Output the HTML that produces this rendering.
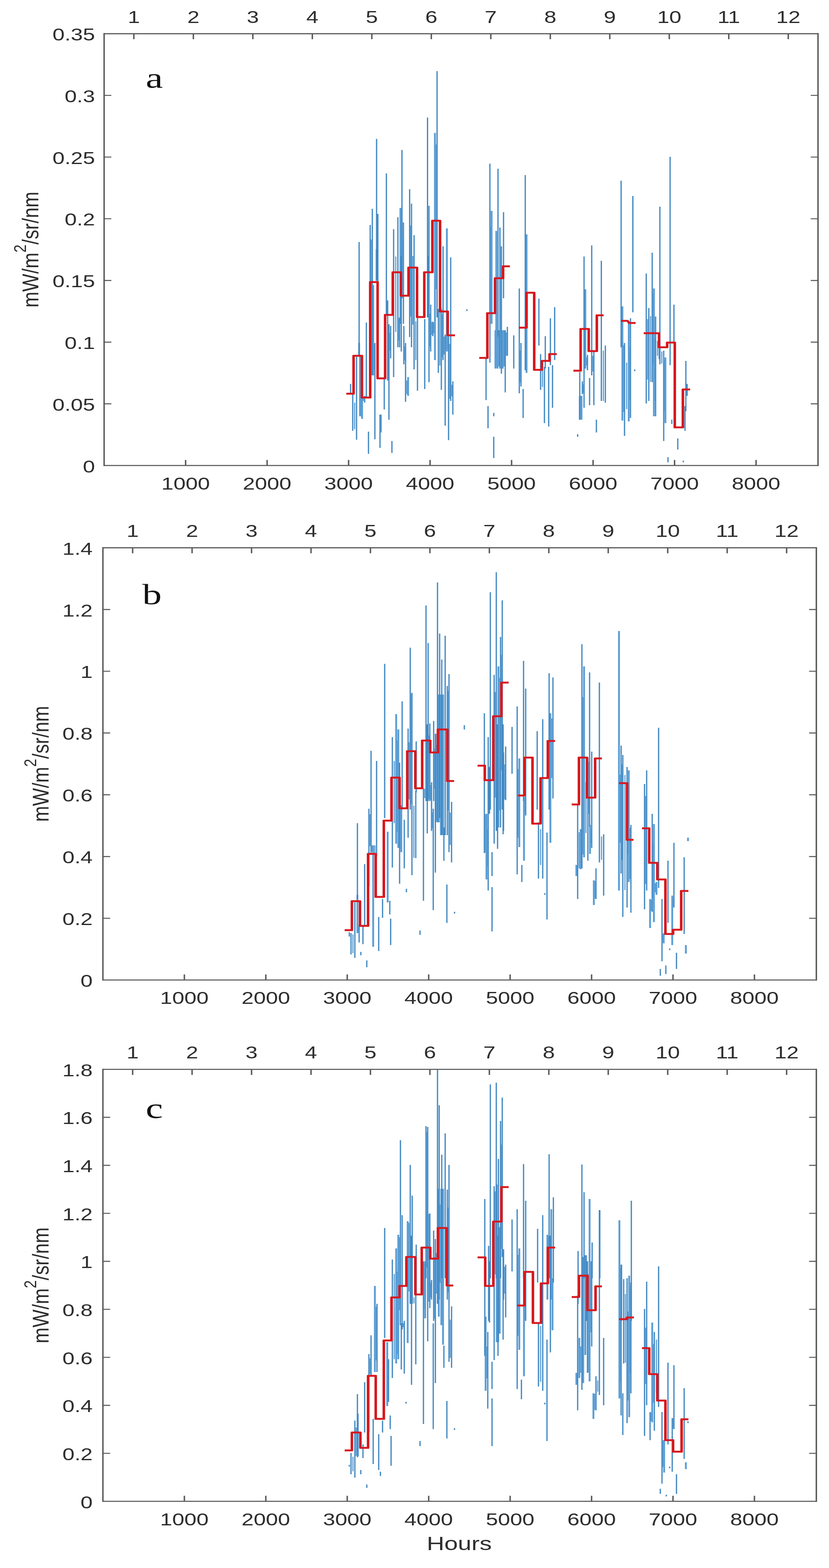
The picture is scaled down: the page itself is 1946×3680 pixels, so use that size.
<!DOCTYPE html>
<html><head><meta charset="utf-8"><title>Figure</title>
<style>html,body{margin:0;padding:0;background:#fff;}svg{display:block;}</style>
</head><body>
<svg width="1946" height="3680" viewBox="0 0 1946 3680"><path d="M843.0,805V835M845.0,835V977M850.0,905V983M876.0,669V881M884.0,585V659M894.0,973V1015M940.0,488V760M958.0,885V929M1005.0,600V745M1021.0,312V845M1049.0,536V825M1154.0,495V760M1165.0,542V863M1163.0,775V865M1168.0,775V865M1172.0,775V860M1180.0,775V865M1184.0,775V860M1236.0,550V875M1361.0,929V985M1365.0,929V985M1374.0,679V865M1461.0,719V987M1476.0,759V989M1535.0,677V977M1548.0,797V843M1562.0,839V993" stroke="#5c9fd6" stroke-width="4.4" fill="none"/>
<path d="M823.0,901V925M828.0,924V1011M837.0,835V1032M843.0,568V833M856.0,929V945M860.0,757V933M865.0,1013V1065M869.0,528V885M874.0,490V881M880.0,805V1031M884.0,326V659M887.0,502V800M892.0,973V1051M902.0,889V961M907.0,407V737M910.0,705V893M913.0,761V985M917.0,765V841M920.0,1035V1063M924.0,538V885M934.0,510V815M938.0,745V815M942.0,600V825M943.6,352V700M947.0,522V760M948.0,765V855M952.0,805V943M961.6,444V791M966.0,478V815M972.0,552V867M980.0,745V917M997.0,749V913M1003.6,276V745M1007.0,483V897M1011.0,715V825M1016.0,755V789M1026.0,167V745M1029.0,725V875M1036.0,725V915M1040.0,578V845M1045.0,785V999M1053.0,785V1033M1058.0,604V941M1063.0,895V973M1141.0,841V939M1145.6,953V1005M1150.0,384V851M1159.0,969V977M1159.0,1025V1075M1169.0,396V790M1173.6,534V865M1177.0,578V877M1182.0,498V700M1186.0,775V921M1191.0,767V835M1206.0,787V865M1219.0,677V923M1223.0,805V907M1228.0,913V981M1233.0,411V869M1265.0,701V811M1269.0,831V915M1278.0,861V993M1280.0,789V865M1288.0,861V1001M1292.0,747V857M1297.0,857V957M1302.0,721V845M1096.0,726V730M1356.0,1019V1025M1361.0,873V985M1367.0,895V925M1371.0,602V957M1379.0,833V869M1384.0,887V951M1389.0,576V881M1394.0,825V951M1400.0,985V1015M1411.6,612V941M1421.0,811V945M1458.0,424V815M1466.0,805V1023M1480.0,747V981M1485.6,460V733M1490.0,867V871M1517.0,642V947M1523.0,723V941M1531.0,593V897M1539.0,743V977M1549.0,485V855M1558.0,823V1035M1573.0,368V857M1582.0,715V805M1577.0,985V995M1591.0,1029V1055M1608.0,953V1011M1610.0,847V965M1613.0,901V929M1604.0,1081V1085M1568.0,1073V1085" stroke="#3f86c0" stroke-width="2.9" fill="none"/>
<path d="M832.5,945V1007M847.5,920V977M853.0,932V941M871.5,562V881M878.0,807V866M915.0,781V823M929.0,602V779M936.0,747V799M945.3,558V679M950.0,814V846M955.0,893V925M963.8,529V743M969.0,601V762M976.0,754V845M1009.0,736V813M1013.5,756V786M1018.5,757V782M1023.5,339V679M1032.5,732V858M1038.0,738V838M1042.5,790V832M1047.0,789V820M1051.0,793V819M1055.5,807V936M1060.5,903V930M1152.0,531V735M1175.3,609V820M1188.5,780V835M1221.0,823V898M1273.5,869V908M1363.0,937V980M1369.0,902V922M1376.5,839V858M1391.5,835V872M1416.3,823V941M1463.5,810V967M1471.0,851V960M1478.0,813V940M1520.0,749V891M1527.0,742V896M1533.0,688V855M1537.0,794V941M1543.5,800V835M1553.5,825V853M1560.0,845V965" stroke="#5a9dd4" stroke-width="2.6" fill="none"/>
<path transform="scale(1.28,1)" d="M635.16,924L648.44,924L648.44,835L663.75,835L663.75,933L678.91,933L678.91,662L692.50,662L692.50,888L706.25,888L706.25,739L720.31,739L720.31,639L735.16,639L735.16,694L749.22,694L749.22,628L764.84,628L764.84,744L778.12,744L778.12,639L792.97,639L792.97,518L807.03,518L807.03,731L821.09,731L821.09,787L834.38,787" stroke="#d7191f" stroke-width="4.7" fill="none" stroke-linejoin="round"/>
<path transform="scale(1.28,1)" d="M878.91,840L893.75,840L893.75,735L907.81,735L907.81,653L922.66,653L922.66,625L935.16,625" stroke="#d7191f" stroke-width="4.7" fill="none" stroke-linejoin="round"/>
<path transform="scale(1.28,1)" d="M951.56,769L965.62,769L965.62,687L979.69,687L979.69,868L993.75,868L993.75,847L1007.81,847L1007.81,831L1021.09,831" stroke="#d7191f" stroke-width="4.7" fill="none" stroke-linejoin="round"/>
<path transform="scale(1.28,1)" d="M1051.56,870L1064.84,870L1064.84,772L1079.69,772L1079.69,824L1094.53,824L1094.53,740L1107.03,740" stroke="#d7191f" stroke-width="4.7" fill="none" stroke-linejoin="round"/>
<path transform="scale(1.28,1)" d="M1139.06,753L1150.78,753L1153.91,758L1165.62,758" stroke="#d7191f" stroke-width="4.7" fill="none" stroke-linejoin="round"/>
<path transform="scale(1.28,1)" d="M1180.47,782L1208.59,782L1208.59,815L1223.44,815L1223.44,804L1237.50,804L1237.50,1003L1252.34,1003L1252.34,914L1265.62,914" stroke="#d7191f" stroke-width="4.7" fill="none" stroke-linejoin="round"/>
<path d="M839.0,2100V2190M876.0,1984V2222M910.0,1952V2118M930.0,1676V1980M935.0,1712V1990M942.0,1890V2000M1030.0,1630V1930M1035.0,1630V1960M1040.0,1630V1960M1142.0,1910V2064M1170.0,1564V1942M1219.0,1780V1988M1230.0,1870V2020M1292.0,1674V1978M1353.0,2030V2056M1363.0,1946V2040M1371.0,1564V2012M1385.0,1936V2004M1394.0,2066V2124M1453.0,1481V2090M1476.0,1808V2070M1526.0,2110V2178M1535.0,1934V2164M1541.0,2070V2100M1558.0,2190V2214M1578.0,2102V2218M1610.0,2218V2238M1615.0,1966V1974" stroke="#5c9fd6" stroke-width="4.4" fill="none"/>
<path d="M820.0,2188V2198M824.0,2190V2240M833.0,2118V2248M839.0,1932V2110M843.0,2170V2212M847.0,2234V2242M852.0,2174V2216M856.0,2028V2174M861.0,2254V2270M866.0,1898V2080M871.0,1762V2002M884.0,1786V2010M889.0,2152V2232M898.0,2110V2154M903.0,1558V1920M915.0,2114V2146M917.0,2156V2218M921.0,1730V2036M938.0,1790V2074M944.0,1646V1900M949.0,1924V2038M954.0,2086V2094M958.0,1710V1966M963.0,1520V1900M967.0,1626V2054M976.0,1856V2014M977.0,1740V1860M986.0,2184V2194M994.0,1850V2114M1000.0,1421V1880M1003.0,1700V1956M1005.0,1509V1880M1009.0,1698V1880M1013.0,1836V1950M1017.0,1898V2136M1018.0,1692V1880M1022.0,1722V2048M1023.0,1722V1930M1027.0,1367V1930M1032.0,1487V1920M1037.0,1548V1960M1042.0,1942V2020M1045.0,1492V1960M1049.0,2076V2166M1050.0,1610V1960M1054.0,1582V2000M1060.0,1882V2024M1067.0,2140V2144M1090.0,1702V1712M1137.0,1674V2002M1146.0,1730V2090M1149.0,1800V1910M1151.0,1390V1900M1155.0,2000V2056M1155.0,2082V2186M1160.0,1584V1980M1165.0,1343V1950M1168.0,1700V1992M1175.0,1495V1942M1179.0,1409V1900M1181.0,1700V1958M1182.0,1766V1950M1187.0,1752V1878M1202.0,1706V1816M1214.0,1658V2052M1225.0,2030V2070M1229.0,1551V1880M1234.0,1616V1914M1261.0,1716V1900M1264.0,1930V2062M1274.0,1688V2062M1279.0,2096V2100M1284.0,1954V2158M1289.0,1580V1900M1298.0,1590V1874M1356.0,1890V2110M1366.0,1512V2038M1380.0,1778V2020M1384.0,1578V1940M1389.0,1764V1990M1399.0,2038V2110M1407.0,1602V2024M1417.0,1958V2102M1458.0,1750V2050M1462.0,1772V2152M1472.0,1800V2130M1481.0,1936V2142M1513.0,1840V2134M1518.0,1808V2090M1531.0,1910V2140M1546.0,1708V2084M1554.0,2110V2256M1568.0,2020V2166M1582.0,1978V2130M1550.0,2274V2290M1563.0,2266V2286M1588.0,2236V2274M1572.0,2226V2230M1606.0,2012V2192" stroke="#3f86c0" stroke-width="2.9" fill="none"/>
<path d="M828.5,2193V2237M841.0,2175V2189M868.5,1911V1986M873.5,1984V1999M880.0,1984V2006M925.5,1786V1932M932.5,1738V1952M940.0,1902V1993M960.5,1742V1876M965.0,1628V1887M971.5,1891V2013M997.0,1851V1873M1007.0,1726V1876M1011.0,1843V1878M1015.0,1907V1944M1020.0,1757V1851M1025.0,1748V1927M1052.0,1622V1902M1057.0,1907V1983M1139.5,1911V2001M1144.0,1946V2033M1162.5,1624V1872M1172.5,1591V1902M1177.0,1537V1808M1184.5,1794V1876M1216.5,1805V1966M1232.0,1873V1909M1269.0,1946V2030M1295.0,1686V1826M1359.5,1953V2038M1368.5,1636V2005M1375.5,1836V1955M1382.0,1788V1910M1387.0,1947V1979M1396.5,2068V2109M1412.0,1963V2018M1455.5,1818V1978M1460.0,1794V2019M1467.0,1819V2089M1474.0,1843V2006M1478.5,1943V2063M1515.5,1868V2075M1528.5,2112V2138M1533.0,1980V2109M1538.0,2073V2094M1556.0,2193V2210M1580.0,2108V2127" stroke="#5a9dd4" stroke-width="2.6" fill="none"/>
<path transform="scale(1.28,1)" d="M632.03,2183L645.31,2183L645.31,2115L660.16,2115L660.16,2173L675.00,2173L675.00,2004L689.06,2004L689.06,2105L703.91,2105L703.91,1926L717.97,1926L717.97,1825L732.81,1825L732.81,1897L746.88,1897L746.88,1763L761.72,1763L761.72,1850L774.22,1850L774.22,1738L789.06,1738L789.06,1766L803.12,1766L803.12,1712L820.31,1712L820.31,1833L832.81,1833" stroke="#d7191f" stroke-width="4.7" fill="none" stroke-linejoin="round"/>
<path transform="scale(1.28,1)" d="M875.78,1797L889.06,1797L889.06,1831L904.69,1831L904.69,1681L919.53,1681L919.53,1602L932.81,1602" stroke="#d7191f" stroke-width="4.7" fill="none" stroke-linejoin="round"/>
<path transform="scale(1.28,1)" d="M950.00,1867L961.72,1867L961.72,1778L976.56,1778L976.56,1933L991.41,1933L991.41,1826L1004.69,1826L1004.69,1739L1017.97,1739" stroke="#d7191f" stroke-width="4.7" fill="none" stroke-linejoin="round"/>
<path transform="scale(1.28,1)" d="M1048.44,1888L1061.72,1888L1061.72,1778L1076.56,1778L1076.56,1872L1091.41,1872L1091.41,1780L1103.91,1780" stroke="#d7191f" stroke-width="4.7" fill="none" stroke-linejoin="round"/>
<path transform="scale(1.28,1)" d="M1135.16,1838L1150.00,1838L1150.00,1971L1161.72,1971" stroke="#d7191f" stroke-width="4.7" fill="none" stroke-linejoin="round"/>
<path transform="scale(1.28,1)" d="M1177.34,1944L1190.62,1944L1190.62,2025L1205.47,2025L1205.47,2064L1220.31,2064L1220.31,2192L1234.38,2192L1234.38,2182L1249.22,2182L1249.22,2091L1262.50,2091" stroke="#d7191f" stroke-width="4.7" fill="none" stroke-linejoin="round"/>
<path d="M840.0,3318V3418M880.0,3018V3220M909.0,3150V3300M930.0,2930V3200M935.0,2898V3190M957.0,2866V3152M998.0,2960V3094M1030.0,2790V3090M1036.0,2790V3110M1040.0,2790V3156M1140.0,3090V3264M1166.0,2780V3150M1173.0,2880V3130M1219.0,2930V3168M1230.0,3000V3230M1285.0,2898V3050M1294.0,2838V3050M1297.0,3000V3122M1353.0,3222V3250M1360.0,3140V3234M1369.0,2950V3246M1374.0,2946V3180M1384.0,2814V3242M1393.0,3270V3330M1454.0,2864V3282M1477.0,2994V3326M1531.0,3104V3338M1559.0,3380V3456M1610.0,3432V3448" stroke="#5c9fd6" stroke-width="4.4" fill="none"/>
<path d="M820.0,3438V3442M824.0,3410V3460M833.0,3334V3468M839.0,3272V3420M847.0,3450V3460M852.0,3390V3422M856.0,3244V3362M861.0,3484V3492M866.0,3178V3360M871.0,3134V3230M876.0,3330V3436M885.0,3060V3220M889.0,3366V3450M893.0,3454V3464M898.0,3334V3362M903.0,2882V3140M912.0,3190V3290M916.0,3322V3354M918.0,3370V3440M921.0,2956V3234M940.0,2676V3110M942.0,3106V3214M944.0,2852V3120M949.0,3100V3224M953.0,3290V3294M963.0,2734V3060M966.0,2900V3250M967.6,2806V3060M976.0,3040V3202M977.0,2921V3040M986.0,3382V3394M994.0,2960V3342M1000.0,2643V3000M1004.0,2645V3148M1009.0,2848V3070M1013.0,3004V3050M1017.0,3106V3354M1018.0,2888V3100M1022.0,2908V3246M1027.0,2509V3060M1031.0,2594V3050M1037.0,2710V3000M1042.0,3158V3210M1045.0,2660V3000M1049.0,3288V3376M1050.0,2792V3050M1054.0,2734V3196M1060.0,3066V3210M1067.0,3352V3356M1138.0,2814V3182M1145.0,3126V3306M1147.0,2924V3100M1149.0,2960V3104M1151.0,2545V3000M1155.0,3196V3260M1155.0,3282V3394M1160.0,2784V3192M1165.0,2541V3000M1169.0,2900V3182M1170.0,2720V3150M1175.0,2631V3000M1179.0,2576V2950M1181.0,2940V3144M1182.0,2932V3050M1187.0,2968V3092M1202.0,2862V2984M1214.0,2838V3260M1224.0,3238V3284M1229.0,2732V3000M1234.0,2818V3100M1262.0,2884V3010M1264.0,3106V3254M1274.0,2852V3264M1279.0,3292V3296M1284.0,3144V3382M1289.0,2709V3000M1292.0,2900V3174M1299.0,2810V3010M1356.0,3040V3310M1357.0,2936V3060M1366.0,2733V3262M1371.0,2798V3000M1376.0,2946V3100M1379.0,2960V3222M1389.0,2960V3160M1390.0,2916V3000M1399.0,3230V3310M1407.0,2840V3274M1408.0,2840V3000M1417.0,3140V3298M1458.0,2968V3322M1459.0,2968V3100M1462.0,3270V3368M1464.0,3002V3200M1472.0,3000V3340M1481.0,3010V3270M1482.0,2818V3100M1513.0,3072V3370M1518.0,3008V3298M1526.0,3314V3380M1536.0,3126V3358M1546.0,2972V3302M1554.0,3314V3482M1568.0,3198V3390M1578.0,3328V3454M1582.0,3204V3354M1550.0,3494V3506M1588.0,3460V3506M1606.0,3258V3424M1615.0,3336V3340M1572.0,3442V3446M1564.0,3508V3512" stroke="#3f86c0" stroke-width="2.9" fill="none"/>
<path d="M828.5,3419V3453M836.0,3350V3417M868.5,3188V3225M882.5,3067V3193M925.5,2990V3190M932.5,2984V3178M937.5,2904V3075M946.5,3105V3115M960.0,2870V3031M971.8,3045V3059M996.0,2965V3071M1002.0,2657V2975M1006.5,2849V3055M1011.0,3010V3045M1020.0,2950V3095M1024.5,2941V3036M1033.5,2827V3011M1052.0,2834V3033M1057.0,3097V3187M1142.5,3160V3235M1162.5,2796V2991M1177.0,2686V2931M1184.5,2973V3036M1216.5,2945V3135M1232.0,3005V3099M1269.0,3112V3243M1287.0,2903V2995M1363.0,3160V3222M1381.5,2990V3221M1386.5,2960V3127M1396.0,3271V3309M1403.0,3240V3266M1456.0,2976V3243M1468.0,3037V3198M1474.5,3078V3287M1479.0,3018V3223M1515.5,3116V3248M1528.5,3315V3335M1533.5,3154V3292M1541.0,3144V3268M1556.5,3380V3443M1580.0,3329V3353" stroke="#5a9dd4" stroke-width="2.6" fill="none"/>
<path transform="scale(1.28,1)" d="M632.03,3404L645.31,3404L645.31,3362L660.94,3362L660.94,3398L675.00,3398L675.00,3229L689.06,3229L689.06,3330L703.91,3330L703.91,3146L717.97,3146L717.97,3045L732.81,3045L732.81,3018L745.31,3018L745.31,2950L761.72,2950L761.72,3038L773.44,3038L773.44,2928L789.06,2928L789.06,2954L803.12,2954L803.12,2882L819.53,2882L819.53,3017L831.25,3017" stroke="#d7191f" stroke-width="4.7" fill="none" stroke-linejoin="round"/>
<path transform="scale(1.28,1)" d="M875.78,2951L889.84,2951L889.84,3018L904.69,3018L904.69,2867L919.53,2867L919.53,2786L932.81,2786" stroke="#d7191f" stroke-width="4.7" fill="none" stroke-linejoin="round"/>
<path transform="scale(1.28,1)" d="M948.44,3064L961.72,3064L961.72,2985L977.34,2985L977.34,3105L992.19,3105L992.19,3012L1004.69,3012L1004.69,2928L1017.97,2928" stroke="#d7191f" stroke-width="4.7" fill="none" stroke-linejoin="round"/>
<path transform="scale(1.28,1)" d="M1048.44,3044L1061.72,3044L1061.72,2994L1077.34,2994L1077.34,3075L1092.19,3075L1092.19,3019L1103.91,3019" stroke="#d7191f" stroke-width="4.7" fill="none" stroke-linejoin="round"/>
<path transform="scale(1.28,1)" d="M1135.16,3096L1150.00,3096L1150.00,3092L1162.50,3092" stroke="#d7191f" stroke-width="4.7" fill="none" stroke-linejoin="round"/>
<path transform="scale(1.28,1)" d="M1177.34,3164L1190.62,3164L1190.62,3225L1205.47,3225L1205.47,3287L1220.31,3287L1220.31,3380L1234.38,3380L1234.38,3407L1250.00,3407L1250.00,3331L1262.50,3331" stroke="#d7191f" stroke-width="4.7" fill="none" stroke-linejoin="round"/>
<path d="M435.7,1092.5v-13M627.0,1092.5v-13M818.3,1092.5v-13M1009.6,1092.5v-13M1200.9,1092.5v-13M1392.2,1092.5v-13M1583.5,1092.5v-13M1774.8,1092.5v-13M314.2,79.1v13M453.9,79.1v13M593.5,79.1v13M733.2,79.1v13M872.8,79.1v13M1012.5,79.1v13M1152.1,79.1v13M1291.8,79.1v13M1431.4,79.1v13M1571.1,79.1v13M1710.7,79.1v13M1850.4,79.1v13" stroke="#5a5a5a" stroke-width="3.4" fill="none"/>
<path d="M244.4,947.7h17M1920.2,947.7h-17M244.4,803.0h17M1920.2,803.0h-17M244.4,658.2h17M1920.2,658.2h-17M244.4,513.4h17M1920.2,513.4h-17M244.4,368.6h17M1920.2,368.6h-17M244.4,223.9h17M1920.2,223.9h-17" stroke="#5a5a5a" stroke-width="2.4" fill="none"/>
<path d="M243.1,79.1H1921.5M243.1,1092.5H1921.5" stroke="#5a5a5a" stroke-width="2.6" fill="none"/>
<path d="M244.4,77.8V1093.8M1920.2,77.8V1093.8" stroke="#5a5a5a" stroke-width="3.4" fill="none"/>
<text transform="translate(222.9,1108.5) scale(1.28,1)" text-anchor="end" font-family="'Liberation Sans', Arial, sans-serif" font-size="40" fill="#2d2d2d" >0</text>
<text transform="translate(222.9,963.7) scale(1.28,1)" text-anchor="end" font-family="'Liberation Sans', Arial, sans-serif" font-size="40" fill="#2d2d2d" >0.05</text>
<text transform="translate(222.9,819.0) scale(1.28,1)" text-anchor="end" font-family="'Liberation Sans', Arial, sans-serif" font-size="40" fill="#2d2d2d" >0.1</text>
<text transform="translate(222.9,674.2) scale(1.28,1)" text-anchor="end" font-family="'Liberation Sans', Arial, sans-serif" font-size="40" fill="#2d2d2d" >0.15</text>
<text transform="translate(222.9,529.4) scale(1.28,1)" text-anchor="end" font-family="'Liberation Sans', Arial, sans-serif" font-size="40" fill="#2d2d2d" >0.2</text>
<text transform="translate(222.9,384.6) scale(1.28,1)" text-anchor="end" font-family="'Liberation Sans', Arial, sans-serif" font-size="40" fill="#2d2d2d" >0.25</text>
<text transform="translate(222.9,239.9) scale(1.28,1)" text-anchor="end" font-family="'Liberation Sans', Arial, sans-serif" font-size="40" fill="#2d2d2d" >0.3</text>
<text transform="translate(222.9,95.1) scale(1.28,1)" text-anchor="end" font-family="'Liberation Sans', Arial, sans-serif" font-size="40" fill="#2d2d2d" >0.35</text>
<text transform="translate(435.7,1148.7) scale(1.28,1)" text-anchor="middle" font-family="'Liberation Sans', Arial, sans-serif" font-size="40" fill="#2d2d2d" >1000</text>
<text transform="translate(627.0,1148.7) scale(1.28,1)" text-anchor="middle" font-family="'Liberation Sans', Arial, sans-serif" font-size="40" fill="#2d2d2d" >2000</text>
<text transform="translate(818.3,1148.7) scale(1.28,1)" text-anchor="middle" font-family="'Liberation Sans', Arial, sans-serif" font-size="40" fill="#2d2d2d" >3000</text>
<text transform="translate(1009.6,1148.7) scale(1.28,1)" text-anchor="middle" font-family="'Liberation Sans', Arial, sans-serif" font-size="40" fill="#2d2d2d" >4000</text>
<text transform="translate(1200.9,1148.7) scale(1.28,1)" text-anchor="middle" font-family="'Liberation Sans', Arial, sans-serif" font-size="40" fill="#2d2d2d" >5000</text>
<text transform="translate(1392.2,1148.7) scale(1.28,1)" text-anchor="middle" font-family="'Liberation Sans', Arial, sans-serif" font-size="40" fill="#2d2d2d" >6000</text>
<text transform="translate(1583.5,1148.7) scale(1.28,1)" text-anchor="middle" font-family="'Liberation Sans', Arial, sans-serif" font-size="40" fill="#2d2d2d" >7000</text>
<text transform="translate(1774.8,1148.7) scale(1.28,1)" text-anchor="middle" font-family="'Liberation Sans', Arial, sans-serif" font-size="40" fill="#2d2d2d" >8000</text>
<text transform="translate(314.2,53.5) scale(1.28,1)" text-anchor="middle" font-family="'Liberation Sans', Arial, sans-serif" font-size="40" fill="#2d2d2d" >1</text>
<text transform="translate(453.9,53.5) scale(1.28,1)" text-anchor="middle" font-family="'Liberation Sans', Arial, sans-serif" font-size="40" fill="#2d2d2d" >2</text>
<text transform="translate(593.5,53.5) scale(1.28,1)" text-anchor="middle" font-family="'Liberation Sans', Arial, sans-serif" font-size="40" fill="#2d2d2d" >3</text>
<text transform="translate(733.2,53.5) scale(1.28,1)" text-anchor="middle" font-family="'Liberation Sans', Arial, sans-serif" font-size="40" fill="#2d2d2d" >4</text>
<text transform="translate(872.8,53.5) scale(1.28,1)" text-anchor="middle" font-family="'Liberation Sans', Arial, sans-serif" font-size="40" fill="#2d2d2d" >5</text>
<text transform="translate(1012.5,53.5) scale(1.28,1)" text-anchor="middle" font-family="'Liberation Sans', Arial, sans-serif" font-size="40" fill="#2d2d2d" >6</text>
<text transform="translate(1152.1,53.5) scale(1.28,1)" text-anchor="middle" font-family="'Liberation Sans', Arial, sans-serif" font-size="40" fill="#2d2d2d" >7</text>
<text transform="translate(1291.8,53.5) scale(1.28,1)" text-anchor="middle" font-family="'Liberation Sans', Arial, sans-serif" font-size="40" fill="#2d2d2d" >8</text>
<text transform="translate(1431.4,53.5) scale(1.28,1)" text-anchor="middle" font-family="'Liberation Sans', Arial, sans-serif" font-size="40" fill="#2d2d2d" >9</text>
<text transform="translate(1571.1,53.5) scale(1.28,1)" text-anchor="middle" font-family="'Liberation Sans', Arial, sans-serif" font-size="40" fill="#2d2d2d" >10</text>
<text transform="translate(1710.7,53.5) scale(1.28,1)" text-anchor="middle" font-family="'Liberation Sans', Arial, sans-serif" font-size="40" fill="#2d2d2d" >11</text>
<text transform="translate(1850.4,53.5) scale(1.28,1)" text-anchor="middle" font-family="'Liberation Sans', Arial, sans-serif" font-size="40" fill="#2d2d2d" >12</text>
<text transform="translate(90,585.8) rotate(-90) scale(1,1.21)" text-anchor="middle" font-family="'Liberation Sans', Arial, sans-serif" font-size="44.7" fill="#2d2d2d">mW/m<tspan font-size="34" dy="-24">2</tspan><tspan dy="24">/sr/nm</tspan></text>
<text transform="translate(341.9,206.1) scale(1.33,1)" text-anchor="start" font-family="'Liberation Serif', 'Times New Roman', serif" font-size="68.5" fill="#2d2d2d" fill-opacity="1" style="fill:#111">a</text>
<path d="M432.8,2300.0v-13M624.0,2300.0v-13M815.1,2300.0v-13M1006.3,2300.0v-13M1197.5,2300.0v-13M1388.7,2300.0v-13M1579.8,2300.0v-13M1771.0,2300.0v-13M311.4,1285.6v13M450.9,1285.6v13M590.5,1285.6v13M730.1,1285.6v13M869.6,1285.6v13M1009.2,1285.6v13M1148.7,1285.6v13M1288.3,1285.6v13M1427.8,1285.6v13M1567.4,1285.6v13M1707.0,1285.6v13M1846.5,1285.6v13" stroke="#5a5a5a" stroke-width="3.4" fill="none"/>
<path d="M241.6,2155.1h17M1916.3,2155.1h-17M241.6,2010.2h17M1916.3,2010.2h-17M241.6,1865.3h17M1916.3,1865.3h-17M241.6,1720.3h17M1916.3,1720.3h-17M241.6,1575.4h17M1916.3,1575.4h-17M241.6,1430.5h17M1916.3,1430.5h-17" stroke="#5a5a5a" stroke-width="2.4" fill="none"/>
<path d="M240.29999999999998,1285.6H1917.6M240.29999999999998,2300.0H1917.6" stroke="#5a5a5a" stroke-width="2.6" fill="none"/>
<path d="M241.6,1284.3V2301.3M1916.3,1284.3V2301.3" stroke="#5a5a5a" stroke-width="3.4" fill="none"/>
<text transform="translate(217.6,2316.0) scale(1.28,1)" text-anchor="end" font-family="'Liberation Sans', Arial, sans-serif" font-size="40" fill="#2d2d2d" >0</text>
<text transform="translate(217.6,2171.1) scale(1.28,1)" text-anchor="end" font-family="'Liberation Sans', Arial, sans-serif" font-size="40" fill="#2d2d2d" >0.2</text>
<text transform="translate(217.6,2026.2) scale(1.28,1)" text-anchor="end" font-family="'Liberation Sans', Arial, sans-serif" font-size="40" fill="#2d2d2d" >0.4</text>
<text transform="translate(217.6,1881.3) scale(1.28,1)" text-anchor="end" font-family="'Liberation Sans', Arial, sans-serif" font-size="40" fill="#2d2d2d" >0.6</text>
<text transform="translate(217.6,1736.3) scale(1.28,1)" text-anchor="end" font-family="'Liberation Sans', Arial, sans-serif" font-size="40" fill="#2d2d2d" >0.8</text>
<text transform="translate(217.6,1591.4) scale(1.28,1)" text-anchor="end" font-family="'Liberation Sans', Arial, sans-serif" font-size="40" fill="#2d2d2d" >1</text>
<text transform="translate(217.6,1446.5) scale(1.28,1)" text-anchor="end" font-family="'Liberation Sans', Arial, sans-serif" font-size="40" fill="#2d2d2d" >1.2</text>
<text transform="translate(217.6,1301.6) scale(1.28,1)" text-anchor="end" font-family="'Liberation Sans', Arial, sans-serif" font-size="40" fill="#2d2d2d" >1.4</text>
<text transform="translate(432.8,2356.2) scale(1.28,1)" text-anchor="middle" font-family="'Liberation Sans', Arial, sans-serif" font-size="40" fill="#2d2d2d" >1000</text>
<text transform="translate(624.0,2356.2) scale(1.28,1)" text-anchor="middle" font-family="'Liberation Sans', Arial, sans-serif" font-size="40" fill="#2d2d2d" >2000</text>
<text transform="translate(815.1,2356.2) scale(1.28,1)" text-anchor="middle" font-family="'Liberation Sans', Arial, sans-serif" font-size="40" fill="#2d2d2d" >3000</text>
<text transform="translate(1006.3,2356.2) scale(1.28,1)" text-anchor="middle" font-family="'Liberation Sans', Arial, sans-serif" font-size="40" fill="#2d2d2d" >4000</text>
<text transform="translate(1197.5,2356.2) scale(1.28,1)" text-anchor="middle" font-family="'Liberation Sans', Arial, sans-serif" font-size="40" fill="#2d2d2d" >5000</text>
<text transform="translate(1388.7,2356.2) scale(1.28,1)" text-anchor="middle" font-family="'Liberation Sans', Arial, sans-serif" font-size="40" fill="#2d2d2d" >6000</text>
<text transform="translate(1579.8,2356.2) scale(1.28,1)" text-anchor="middle" font-family="'Liberation Sans', Arial, sans-serif" font-size="40" fill="#2d2d2d" >7000</text>
<text transform="translate(1771.0,2356.2) scale(1.28,1)" text-anchor="middle" font-family="'Liberation Sans', Arial, sans-serif" font-size="40" fill="#2d2d2d" >8000</text>
<text transform="translate(311.4,1260.0) scale(1.28,1)" text-anchor="middle" font-family="'Liberation Sans', Arial, sans-serif" font-size="40" fill="#2d2d2d" >1</text>
<text transform="translate(450.9,1260.0) scale(1.28,1)" text-anchor="middle" font-family="'Liberation Sans', Arial, sans-serif" font-size="40" fill="#2d2d2d" >2</text>
<text transform="translate(590.5,1260.0) scale(1.28,1)" text-anchor="middle" font-family="'Liberation Sans', Arial, sans-serif" font-size="40" fill="#2d2d2d" >3</text>
<text transform="translate(730.1,1260.0) scale(1.28,1)" text-anchor="middle" font-family="'Liberation Sans', Arial, sans-serif" font-size="40" fill="#2d2d2d" >4</text>
<text transform="translate(869.6,1260.0) scale(1.28,1)" text-anchor="middle" font-family="'Liberation Sans', Arial, sans-serif" font-size="40" fill="#2d2d2d" >5</text>
<text transform="translate(1009.2,1260.0) scale(1.28,1)" text-anchor="middle" font-family="'Liberation Sans', Arial, sans-serif" font-size="40" fill="#2d2d2d" >6</text>
<text transform="translate(1148.7,1260.0) scale(1.28,1)" text-anchor="middle" font-family="'Liberation Sans', Arial, sans-serif" font-size="40" fill="#2d2d2d" >7</text>
<text transform="translate(1288.3,1260.0) scale(1.28,1)" text-anchor="middle" font-family="'Liberation Sans', Arial, sans-serif" font-size="40" fill="#2d2d2d" >8</text>
<text transform="translate(1427.8,1260.0) scale(1.28,1)" text-anchor="middle" font-family="'Liberation Sans', Arial, sans-serif" font-size="40" fill="#2d2d2d" >9</text>
<text transform="translate(1567.4,1260.0) scale(1.28,1)" text-anchor="middle" font-family="'Liberation Sans', Arial, sans-serif" font-size="40" fill="#2d2d2d" >10</text>
<text transform="translate(1707.0,1260.0) scale(1.28,1)" text-anchor="middle" font-family="'Liberation Sans', Arial, sans-serif" font-size="40" fill="#2d2d2d" >11</text>
<text transform="translate(1846.5,1260.0) scale(1.28,1)" text-anchor="middle" font-family="'Liberation Sans', Arial, sans-serif" font-size="40" fill="#2d2d2d" >12</text>
<text transform="translate(114,1792.8) rotate(-90) scale(1,1.21)" text-anchor="middle" font-family="'Liberation Sans', Arial, sans-serif" font-size="44.7" fill="#2d2d2d">mW/m<tspan font-size="34" dy="-24">2</tspan><tspan dy="24">/sr/nm</tspan></text>
<text transform="translate(334.1,1418.1) scale(1.33,1)" text-anchor="start" font-family="'Liberation Serif', 'Times New Roman', serif" font-size="68.5" fill="#2d2d2d" fill-opacity="1" style="fill:#111">b</text>
<path d="M432.8,3523.5v-13M624.0,3523.5v-13M815.1,3523.5v-13M1006.3,3523.5v-13M1197.5,3523.5v-13M1388.7,3523.5v-13M1579.8,3523.5v-13M1771.0,3523.5v-13M311.4,2509.7v13M450.9,2509.7v13M590.5,2509.7v13M730.1,2509.7v13M869.6,2509.7v13M1009.2,2509.7v13M1148.7,2509.7v13M1288.3,2509.7v13M1427.8,2509.7v13M1567.4,2509.7v13M1707.0,2509.7v13M1846.5,2509.7v13" stroke="#5a5a5a" stroke-width="3.4" fill="none"/>
<path d="M241.6,3410.9h17M1916.3,3410.9h-17M241.6,3298.2h17M1916.3,3298.2h-17M241.6,3185.6h17M1916.3,3185.6h-17M241.6,3072.9h17M1916.3,3072.9h-17M241.6,2960.3h17M1916.3,2960.3h-17M241.6,2847.6h17M1916.3,2847.6h-17M241.6,2735.0h17M1916.3,2735.0h-17M241.6,2622.3h17M1916.3,2622.3h-17" stroke="#5a5a5a" stroke-width="2.4" fill="none"/>
<path d="M240.29999999999998,2509.7H1917.6M240.29999999999998,3523.5H1917.6" stroke="#5a5a5a" stroke-width="2.6" fill="none"/>
<path d="M241.6,2508.3999999999996V3524.8M1916.3,2508.3999999999996V3524.8" stroke="#5a5a5a" stroke-width="3.4" fill="none"/>
<text transform="translate(217.6,3539.5) scale(1.28,1)" text-anchor="end" font-family="'Liberation Sans', Arial, sans-serif" font-size="40" fill="#2d2d2d" >0</text>
<text transform="translate(217.6,3426.9) scale(1.28,1)" text-anchor="end" font-family="'Liberation Sans', Arial, sans-serif" font-size="40" fill="#2d2d2d" >0.2</text>
<text transform="translate(217.6,3314.2) scale(1.28,1)" text-anchor="end" font-family="'Liberation Sans', Arial, sans-serif" font-size="40" fill="#2d2d2d" >0.4</text>
<text transform="translate(217.6,3201.6) scale(1.28,1)" text-anchor="end" font-family="'Liberation Sans', Arial, sans-serif" font-size="40" fill="#2d2d2d" >0.6</text>
<text transform="translate(217.6,3088.9) scale(1.28,1)" text-anchor="end" font-family="'Liberation Sans', Arial, sans-serif" font-size="40" fill="#2d2d2d" >0.8</text>
<text transform="translate(217.6,2976.3) scale(1.28,1)" text-anchor="end" font-family="'Liberation Sans', Arial, sans-serif" font-size="40" fill="#2d2d2d" >1</text>
<text transform="translate(217.6,2863.6) scale(1.28,1)" text-anchor="end" font-family="'Liberation Sans', Arial, sans-serif" font-size="40" fill="#2d2d2d" >1.2</text>
<text transform="translate(217.6,2751.0) scale(1.28,1)" text-anchor="end" font-family="'Liberation Sans', Arial, sans-serif" font-size="40" fill="#2d2d2d" >1.4</text>
<text transform="translate(217.6,2638.3) scale(1.28,1)" text-anchor="end" font-family="'Liberation Sans', Arial, sans-serif" font-size="40" fill="#2d2d2d" >1.6</text>
<text transform="translate(217.6,2525.7) scale(1.28,1)" text-anchor="end" font-family="'Liberation Sans', Arial, sans-serif" font-size="40" fill="#2d2d2d" >1.8</text>
<text transform="translate(432.8,3579.7) scale(1.28,1)" text-anchor="middle" font-family="'Liberation Sans', Arial, sans-serif" font-size="40" fill="#2d2d2d" >1000</text>
<text transform="translate(624.0,3579.7) scale(1.28,1)" text-anchor="middle" font-family="'Liberation Sans', Arial, sans-serif" font-size="40" fill="#2d2d2d" >2000</text>
<text transform="translate(815.1,3579.7) scale(1.28,1)" text-anchor="middle" font-family="'Liberation Sans', Arial, sans-serif" font-size="40" fill="#2d2d2d" >3000</text>
<text transform="translate(1006.3,3579.7) scale(1.28,1)" text-anchor="middle" font-family="'Liberation Sans', Arial, sans-serif" font-size="40" fill="#2d2d2d" >4000</text>
<text transform="translate(1197.5,3579.7) scale(1.28,1)" text-anchor="middle" font-family="'Liberation Sans', Arial, sans-serif" font-size="40" fill="#2d2d2d" >5000</text>
<text transform="translate(1388.7,3579.7) scale(1.28,1)" text-anchor="middle" font-family="'Liberation Sans', Arial, sans-serif" font-size="40" fill="#2d2d2d" >6000</text>
<text transform="translate(1579.8,3579.7) scale(1.28,1)" text-anchor="middle" font-family="'Liberation Sans', Arial, sans-serif" font-size="40" fill="#2d2d2d" >7000</text>
<text transform="translate(1771.0,3579.7) scale(1.28,1)" text-anchor="middle" font-family="'Liberation Sans', Arial, sans-serif" font-size="40" fill="#2d2d2d" >8000</text>
<text transform="translate(311.4,2484.1) scale(1.28,1)" text-anchor="middle" font-family="'Liberation Sans', Arial, sans-serif" font-size="40" fill="#2d2d2d" >1</text>
<text transform="translate(450.9,2484.1) scale(1.28,1)" text-anchor="middle" font-family="'Liberation Sans', Arial, sans-serif" font-size="40" fill="#2d2d2d" >2</text>
<text transform="translate(590.5,2484.1) scale(1.28,1)" text-anchor="middle" font-family="'Liberation Sans', Arial, sans-serif" font-size="40" fill="#2d2d2d" >3</text>
<text transform="translate(730.1,2484.1) scale(1.28,1)" text-anchor="middle" font-family="'Liberation Sans', Arial, sans-serif" font-size="40" fill="#2d2d2d" >4</text>
<text transform="translate(869.6,2484.1) scale(1.28,1)" text-anchor="middle" font-family="'Liberation Sans', Arial, sans-serif" font-size="40" fill="#2d2d2d" >5</text>
<text transform="translate(1009.2,2484.1) scale(1.28,1)" text-anchor="middle" font-family="'Liberation Sans', Arial, sans-serif" font-size="40" fill="#2d2d2d" >6</text>
<text transform="translate(1148.7,2484.1) scale(1.28,1)" text-anchor="middle" font-family="'Liberation Sans', Arial, sans-serif" font-size="40" fill="#2d2d2d" >7</text>
<text transform="translate(1288.3,2484.1) scale(1.28,1)" text-anchor="middle" font-family="'Liberation Sans', Arial, sans-serif" font-size="40" fill="#2d2d2d" >8</text>
<text transform="translate(1427.8,2484.1) scale(1.28,1)" text-anchor="middle" font-family="'Liberation Sans', Arial, sans-serif" font-size="40" fill="#2d2d2d" >9</text>
<text transform="translate(1567.4,2484.1) scale(1.28,1)" text-anchor="middle" font-family="'Liberation Sans', Arial, sans-serif" font-size="40" fill="#2d2d2d" >10</text>
<text transform="translate(1707.0,2484.1) scale(1.28,1)" text-anchor="middle" font-family="'Liberation Sans', Arial, sans-serif" font-size="40" fill="#2d2d2d" >11</text>
<text transform="translate(1846.5,2484.1) scale(1.28,1)" text-anchor="middle" font-family="'Liberation Sans', Arial, sans-serif" font-size="40" fill="#2d2d2d" >12</text>
<text transform="translate(114,3016.6) rotate(-90) scale(1,1.21)" text-anchor="middle" font-family="'Liberation Sans', Arial, sans-serif" font-size="44.7" fill="#2d2d2d">mW/m<tspan font-size="34" dy="-24">2</tspan><tspan dy="24">/sr/nm</tspan></text>
<text transform="translate(342.1,2624.2) scale(1.33,1)" text-anchor="start" font-family="'Liberation Serif', 'Times New Roman', serif" font-size="68.5" fill="#2d2d2d" fill-opacity="1" style="fill:#111">c</text>
<text transform="translate(1078.0,3638.4) scale(1.3,1)" text-anchor="middle" font-family="'Liberation Sans', Arial, sans-serif" font-size="44" fill="#2d2d2d" >Hours</text>
<!--DATA-->
</svg>
</body></html>
